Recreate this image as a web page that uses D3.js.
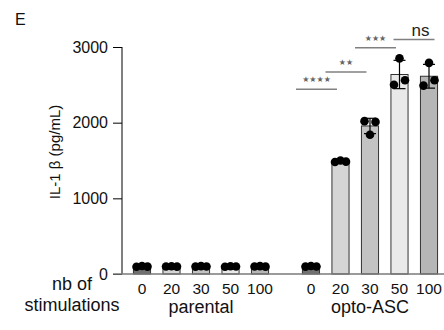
<!DOCTYPE html>
<html>
<head>
<meta charset="utf-8">
<script src="https://cdn.jsdelivr.net/npm/d3@7"></script>
<style>
  body { margin: 0; background: #fff; }
  svg { font-family: 'Liberation Sans', Arial, sans-serif; }
</style>
</head>
<body>
<svg id="chart" width="444" height="330"></svg>
<script>
const groups = ['parental', 'opto-ASC'];
const stims = ['0', '20', '30', '50', '100'];
// replicate values (left, centre, right dot) per group, per stimulation count
const parentalValues = [[95, 105, 98], [100, 102, 98], [98, 104, 100], [96, 103, 99], [100, 104, 97]];
const optoValues = [[98, 106, 100], [1480, 1500, 1485], [2020, 1840, 2010], [2500, 2850, 2560], [2490, 2790, 2560]];
const yTicks = [0, 1000, 2000, 3000];
const barFills = ['#707070', '#d5d5d5', '#c3c3c3', '#e9e9e9', '#b6b6b6'];
const comparisons = [
    { a: '0', b: '20', label: '****', y: 2440 },
    { a: '20', b: '30', label: '**', y: 2670 },
    { a: '30', b: '50', label: '***', y: 2990 },
    { a: '50', b: '100', label: 'ns', y: 3100 }
];

let svg = d3.select('#chart');

let x0 = d3.scaleBand().domain(groups).range([127.25, 443.75]).paddingInner(0.127).paddingOuter(0);
let x1 = d3.scaleBand().domain(stims).range([0, x0.bandwidth()]).paddingInner(0.42).paddingOuter(0.21);
let y = d3.scaleLinear().domain([0, 3000]).range([274, 47]);
let xc = (g, s) => x0(g) + x1(s) + x1.bandwidth() / 2;

let rows = [];
[parentalValues, optoValues].forEach((vals, gi) => {
    vals.forEach((v, si) => {
        let mean = d3.mean(v), sd = d3.deviation(v);
        rows.push({ group: groups[gi], stim: stims[si], values: v, mean: mean, sd: sd, fill: barFills[si] });
    });
});

// bars
svg.append('g').selectAll('rect')
    .data(rows)
    .enter()
    .append('rect')
    .attr('x', d => x0(d.group) + x1(d.stim))
    .attr('width', x1.bandwidth())
    .attr('y', d => y(d.mean))
    .attr('height', d => y(0) - y(d.mean))
    .style('fill', d => d.fill)
    .style('stroke', '#333')
    .style('stroke-width', 1);

// error bars (sd)
let eb = svg.append('g').selectAll('g')
    .data(rows)
    .enter()
    .append('g')
    .style('stroke', '#000')
    .style('stroke-width', 1.2);
eb.append('line')
    .attr('x1', d => xc(d.group, d.stim)).attr('x2', d => xc(d.group, d.stim))
    .attr('y1', d => y(d.mean - d.sd)).attr('y2', d => y(d.mean + d.sd));
eb.append('line')
    .attr('x1', d => xc(d.group, d.stim) - 6).attr('x2', d => xc(d.group, d.stim) + 6)
    .attr('y1', d => y(d.mean - d.sd)).attr('y2', d => y(d.mean - d.sd));
eb.append('line')
    .attr('x1', d => xc(d.group, d.stim) - 6).attr('x2', d => xc(d.group, d.stim) + 6)
    .attr('y1', d => y(d.mean + d.sd)).attr('y2', d => y(d.mean + d.sd));

// replicate dots
let jitter = [-5.5, 0, 5.5];
svg.append('g').selectAll('circle')
    .data(rows.flatMap(r => r.values.map((v, i) => ({ group: r.group, stim: r.stim, v: v, i: i }))))
    .enter()
    .append('circle')
    .attr('cx', d => xc(d.group, d.stim) + jitter[d.i])
    .attr('cy', d => y(d.v))
    .attr('r', 4.3)
    .style('fill', '#000');

// axes
let yAxis = svg.append('g')
    .attr('transform', 'translate(122,0)')
    .call(d3.axisLeft(y).tickValues(yTicks).tickFormat(d3.format('d')).tickSize(9).tickPadding(5));
yAxis.select('.domain').attr('d', `M0,${y(3000)}V${y(0)}`).style('stroke', '#000');
yAxis.selectAll('.tick line').style('stroke', '#000');
yAxis.selectAll('.tick text').style('font-size', '16px').style('fill', '#111');

svg.append('line')
    .attr('x1', 113).attr('x2', 444)
    .attr('y1', y(0)).attr('y2', y(0))
    .style('stroke', '#7a7a7a')
    .style('stroke-width', 1.5);

// category labels
svg.append('g').selectAll('text')
    .data(rows)
    .enter()
    .append('text')
    .attr('x', d => xc(d.group, d.stim))
    .attr('y', 294)
    .attr('text-anchor', 'middle')
    .style('font-size', '15.5px')
    .style('fill', '#111')
    .text(d => d.stim);

svg.append('g').selectAll('text')
    .data(groups)
    .enter()
    .append('text')
    .attr('x', d => x0(d) + x0.bandwidth() / 2)
    .attr('y', 313)
    .attr('text-anchor', 'middle')
    .style('font-size', '18px')
    .style('fill', '#111')
    .text(d => d);

let nb = svg.append('text')
    .attr('text-anchor', 'middle')
    .style('font-size', '18px')
    .style('fill', '#111');
nb.append('tspan').attr('x', 72).attr('y', 290).text('nb of');
nb.append('tspan').attr('x', 72).attr('y', 311).text('stimulations');

svg.append('text')
    .attr('transform', 'translate(60,152) rotate(-90)')
    .attr('text-anchor', 'middle')
    .style('font-size', '15px')
    .style('fill', '#111')
    .text('IL-1 β (pg/mL)');

svg.append('text')
    .attr('x', 15).attr('y', 25)
    .style('font-size', '16px')
    .style('fill', '#111')
    .text('E');

// significance annotations
let ann = svg.append('g').selectAll('g')
    .data(comparisons)
    .enter()
    .append('g');
let annStart = d => xc('opto-ASC', d.a) + (d.label === 'ns' ? -6 : -15);
ann.append('line')
    .attr('x1', d => annStart(d))
    .attr('x2', d => annStart(d) + 41)
    .attr('y1', d => y(d.y)).attr('y2', d => y(d.y))
    .style('stroke', '#808080')
    .style('stroke-width', 1.5);
ann.append('text')
    .attr('x', d => annStart(d) + (d.label === 'ns' ? 27 : 20.5))
    .attr('y', d => d.label === 'ns' ? y(d.y) - 3 : y(d.y) - 7)
    .attr('text-anchor', 'middle')
    .style('font-family', d => d.label === 'ns' ? null : 'DejaVu Sans')
    .style('font-size', d => d.label === 'ns' ? '17px' : '8px')
    .style('fill', d => d.label === 'ns' ? '#222' : '#666')
    .text(d => d.label === 'ns' ? 'ns' : d.label.replace(/\*/g, '★'));
</script>
</body>
</html>
